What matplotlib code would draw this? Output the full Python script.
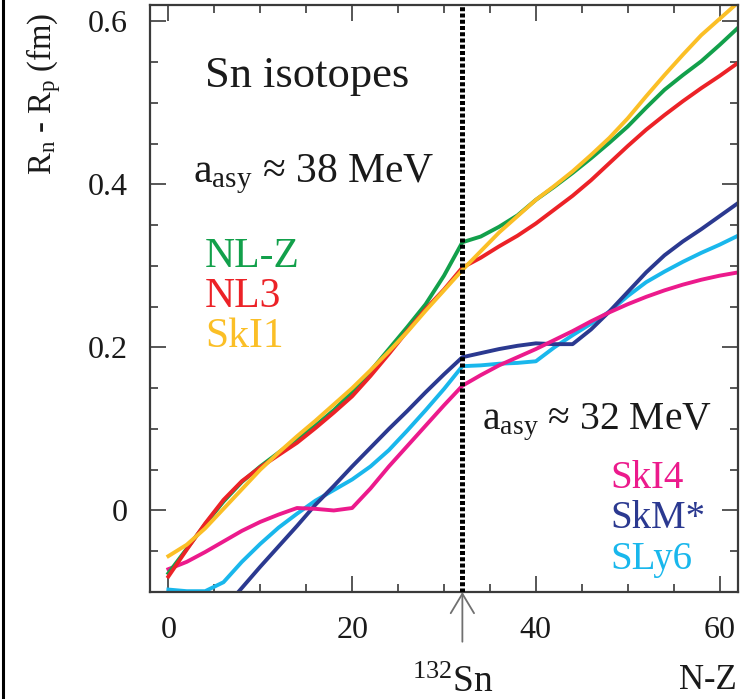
import matplotlib
matplotlib.use("Agg")
import matplotlib.pyplot as plt
from matplotlib.lines import Line2D
from matplotlib.ticker import MultipleLocator

plt.rcParams['font.family'] = ['Liberation Serif', 'DejaVu Serif']
plt.rcParams['mathtext.fontset'] = 'custom'
plt.rcParams['mathtext.rm'] = 'Liberation Serif'
plt.rcParams['mathtext.it'] = 'Liberation Serif:italic'

# ---------------- data ----------------
N_Z = list(range(0, 63, 2))
N_Z_skm = list(range(6, 63, 2))

nlz = [-0.077, -0.047, -0.017, 0.011, 0.035, 0.054, 0.071, 0.088, 0.104, 0.123,
       0.145, 0.171, 0.198, 0.225, 0.253, 0.288, 0.329, 0.336, 0.348, 0.362,
       0.381, 0.397, 0.414, 0.432, 0.451, 0.471, 0.494, 0.516, 0.534, 0.551,
       0.571, 0.592]
nl3 = [-0.081, -0.048, -0.016, 0.013, 0.036, 0.053, 0.068, 0.083, 0.101, 0.120,
       0.140, 0.165, 0.192, 0.220, 0.247, 0.271, 0.298, 0.310, 0.324, 0.337,
       0.352, 0.369, 0.386, 0.405, 0.426, 0.447, 0.467, 0.485, 0.502, 0.518,
       0.533, 0.549]
ski1 = [-0.056, -0.042, -0.022, 0.002, 0.026, 0.050, 0.071, 0.091, 0.110, 0.130,
        0.150, 0.172, 0.195, 0.219, 0.245, 0.270, 0.295, 0.318, 0.341, 0.361,
        0.381, 0.398, 0.416, 0.436, 0.457, 0.481, 0.508, 0.534, 0.559, 0.583,
        0.603, 0.623]
ski4 = [-0.072, -0.063, -0.051, -0.038, -0.025, -0.014, -0.005, 0.003, 0.002, 0.000,
        0.003, 0.027, 0.054, 0.079, 0.104, 0.129, 0.153, 0.166, 0.178, 0.188,
        0.198, 0.209, 0.220, 0.232, 0.243, 0.253, 0.262, 0.270, 0.277, 0.283,
        0.288, 0.292]
skm = [-0.121, -0.095, -0.069, -0.044, -0.019, 0.007, 0.030, 0.054, 0.077, 0.100,
       0.122, 0.145, 0.167, 0.188, 0.193, 0.198, 0.202, 0.205, 0.204, 0.204,
       0.222, 0.244, 0.268, 0.292, 0.313, 0.330, 0.345, 0.361, 0.377]
sly6 = [-0.097, -0.099, -0.099, -0.088, -0.063, -0.041, -0.021, -0.004, 0.012, 0.025,
        0.038, 0.054, 0.074, 0.098, 0.123, 0.149, 0.177, 0.178, 0.180, 0.181,
        0.183, 0.200, 0.215, 0.229, 0.244, 0.263, 0.280, 0.293, 0.305, 0.316,
        0.326, 0.337]

x_ticks = [0, 20, 40, 60]
x_tick_labels = ['0', '20', '40', '60']
y_ticks = [0, 0.2, 0.4, 0.6]
y_tick_labels = ['0', '0.2', '0.4', '0.6']

sn132 = 32

C_GREEN = '#12a04b'
C_RED = '#ec2227'
C_ORANGE = '#fbbf26'
C_MAGENTA = '#ec1a8c'
C_NAVY = '#2b3990'
C_CYAN = '#19b7ec'
SERIF = ['Liberation Serif', 'DejaVu Serif']

# ---------------- figure ----------------
fig = plt.figure(figsize=(7.42, 6.99), dpi=100)
ax = fig.add_axes([150 / 742, 1 - 592 / 699, 588 / 742, 587 / 699])

lw = 2.8
ax.plot(N_Z, sly6, color=C_CYAN, lw=lw)
ax.plot(N_Z_skm, skm, color=C_NAVY, lw=lw)
ax.plot(N_Z, ski4, color=C_MAGENTA, lw=lw)
ax.plot(N_Z, nlz, color=C_GREEN, lw=lw)
ax.plot(N_Z, nl3, color=C_RED, lw=lw)
ax.plot(N_Z, ski1, color=C_ORANGE, lw=lw)

ax.axvline(sn132, color='black', lw=3.6, linestyle=(0, (0.8, 0.45)), zorder=5)

ax.set_xlim(-2, 62)
ax.set_ylim(-0.1, 0.62)

ax.xaxis.set_minor_locator(MultipleLocator(5))
ax.yaxis.set_minor_locator(MultipleLocator(0.05))
ax.set_xticks(x_ticks)
ax.set_xticklabels(x_tick_labels, fontfamily=SERIF)
ax.set_yticks(y_ticks)
ax.set_yticklabels(y_tick_labels, fontfamily=SERIF)

spine_c = '#3a3a3a'
for s in ax.spines.values():
    s.set_color(spine_c)
    s.set_linewidth(1.6)
ax.tick_params(which='both', direction='in', top=True, right=True, color=spine_c,
               width=1.2, labelsize=23, labelcolor='#1a1a1a')
ax.tick_params(which='major', length=11.5)
ax.tick_params(which='minor', length=5.5)
ax.tick_params(axis='x', which='major', pad=17)
ax.tick_params(axis='y', which='major', pad=16)

tkw = dict(ha='left', va='baseline', family=SERIF)
ax.text(3.98, 0.519, 'Sn isotopes', color='#1a1a1a', fontsize=32, **tkw)
ax.text(2.68, 0.402, r'$\mathrm{a_{asy}}$ ≈ 38 MeV', color='#1a1a1a', fontsize=30, **tkw)
ax.text(3.98, 0.299, 'NL-Z', color=C_GREEN, fontsize=30, **tkw)
ax.text(3.98, 0.250, 'NL3', color=C_RED, fontsize=30, **tkw)
ax.text(3.98, 0.200, 'SkI1', color=C_ORANGE, fontsize=30, **tkw)
ax.text(34.1, 0.0993, r'$\mathrm{a_{asy}}$ ≈ 32 MeV', color='#1a1a1a', fontsize=28.5, **tkw)
ax.text(48.1, 0.028, 'SkI4', color=C_MAGENTA, fontsize=28, **tkw)
ax.text(48.1, -0.021, 'SkM*', color=C_NAVY, fontsize=28, **tkw)
ax.text(48.1, -0.072, 'SLy6', color=C_CYAN, fontsize=28, **tkw)

# arrow marking 132Sn
ax.annotate('', xy=(sn132, -0.1), xytext=(sn132, -0.161),
            xycoords='data', textcoords='data', annotation_clip=False,
            arrowprops=dict(arrowstyle='->,head_length=0.7,head_width=0.42',
                            color='#707070', lw=1.3, mutation_scale=20,
                            shrinkA=0, shrinkB=0))
ax.text(26.5, -0.223, r'$^{132}$Sn', ha='left', va='baseline', fontsize=27,
        color='#1a1a1a', clip_on=False, family=SERIF)
ax.text(61.9, -0.2195, 'N-Z', ha='right', va='baseline', fontsize=25,
        color='#1a1a1a', clip_on=False, family=SERIF)

fig.text(44 / 742, 1 - 94 / 699, r'$\mathrm{R_n}$ - $\mathrm{R_p}$ (fm)',
         rotation=90, ha='center', va='center', fontsize=23.5, color='#1a1a1a',
         family=SERIF)

fig.add_artist(Line2D([3 / 742, 3 / 742], [0, 1], color='black', lw=2.2))

fig.savefig('out.png', dpi=100)
